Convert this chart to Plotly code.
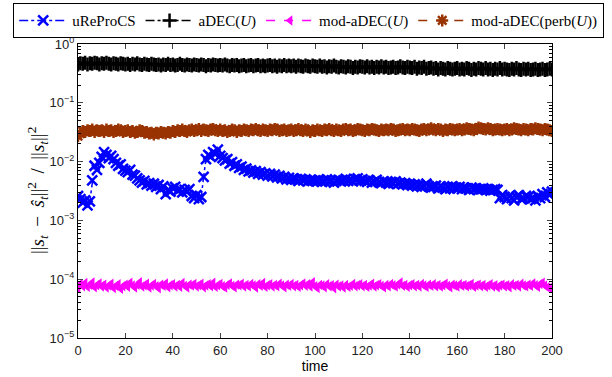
import plotly.graph_objects as go

time = list(range(201))

ureprocs = [
    0.0026, 0.0023, 0.0020, 0.0022, 0.0018, 0.0021, 0.0048, 0.0085, 0.0072, 0.0095,
    0.0120, 0.0145, 0.0130, 0.0115, 0.0125, 0.0110, 0.0095, 0.0085, 0.0090, 0.0075,
    0.0070, 0.0066, 0.0072, 0.0060, 0.0058, 0.0052, 0.0048, 0.0044, 0.0047, 0.0041,
    0.0043, 0.0039, 0.0042, 0.0037, 0.0040, 0.0034, 0.0038, 0.0028, 0.0033, 0.0031,
    0.0035, 0.0037, 0.0032, 0.0034, 0.0030, 0.0033, 0.0031, 0.0034, 0.0026, 0.0024,
    0.0027, 0.0023, 0.0025, 0.0055, 0.0110, 0.0130, 0.0120, 0.0145, 0.0135, 0.0160,
    0.0125, 0.0115, 0.0105, 0.0110, 0.0092, 0.0098, 0.0085, 0.0090, 0.0078, 0.0082,
    0.0072, 0.0076, 0.0068, 0.0071, 0.0065, 0.0069, 0.0062, 0.0066, 0.0060, 0.0063,
    0.0058, 0.0062, 0.0056, 0.0060, 0.0054, 0.0057, 0.0052, 0.0055, 0.0050, 0.0053,
    0.0049, 0.0052, 0.0050, 0.0047, 0.0051, 0.0048, 0.0050, 0.0046, 0.0049, 0.0047,
    0.0048, 0.0046, 0.0049, 0.0045, 0.0047, 0.0050, 0.0046, 0.0048, 0.0044, 0.0047,
    0.0049, 0.0046, 0.0048, 0.0051, 0.0047, 0.0049, 0.0046, 0.0050, 0.0052, 0.0048,
    0.0050, 0.0047, 0.0045, 0.0048, 0.0044, 0.0046, 0.0049, 0.0045, 0.0043, 0.0046,
    0.0044, 0.0042, 0.0045, 0.0043, 0.0046, 0.0042, 0.0044, 0.0041, 0.0043, 0.0040,
    0.0042, 0.0039, 0.0041, 0.0038, 0.0040, 0.0037, 0.0039, 0.0042, 0.0038, 0.0036,
    0.0037, 0.0039, 0.0035, 0.0038, 0.0036, 0.0034, 0.0037, 0.0035, 0.0038, 0.0036,
    0.0035, 0.0037, 0.0034, 0.0036, 0.0035, 0.0033, 0.0036, 0.0034, 0.0035, 0.0033,
    0.0034, 0.0035, 0.0033, 0.0034, 0.0032, 0.0033, 0.0034, 0.0033, 0.0024, 0.0027,
    0.0025, 0.0023, 0.0026, 0.0024, 0.0022, 0.0025, 0.0027, 0.0023, 0.0024, 0.0026,
    0.0025, 0.0023, 0.0024, 0.0022, 0.0026, 0.0024, 0.0028, 0.0025, 0.0030, 0.0027,
    0.0031,
]

adec = [
    0.45, 0.47, 0.46, 0.48, 0.45, 0.47, 0.46, 0.48, 0.47, 0.45,
    0.47, 0.46, 0.48, 0.46, 0.45, 0.47, 0.46, 0.45, 0.47, 0.46,
    0.45, 0.46, 0.44, 0.46, 0.45, 0.47, 0.45, 0.44, 0.46, 0.45,
    0.44, 0.46, 0.45, 0.44, 0.45, 0.43, 0.45, 0.44, 0.46, 0.44,
    0.45, 0.43, 0.44, 0.46, 0.44, 0.43, 0.45, 0.44, 0.43, 0.45,
    0.44, 0.43, 0.45, 0.44, 0.42, 0.44, 0.43, 0.45, 0.44, 0.43,
    0.44, 0.43, 0.45, 0.43, 0.42, 0.44, 0.43, 0.44, 0.42, 0.43,
    0.44, 0.42, 0.43, 0.44, 0.42, 0.43, 0.44, 0.42, 0.43, 0.42,
    0.43, 0.44, 0.42, 0.43, 0.41, 0.43, 0.42, 0.44, 0.42, 0.43,
    0.42, 0.43, 0.41, 0.43, 0.42, 0.41, 0.43, 0.42, 0.41, 0.43,
    0.42, 0.41, 0.43, 0.41, 0.42, 0.40, 0.42, 0.41, 0.43, 0.41,
    0.40, 0.42, 0.41, 0.40, 0.42, 0.41, 0.39, 0.41, 0.40, 0.42,
    0.41, 0.40, 0.42, 0.40, 0.41, 0.39, 0.41, 0.40, 0.42, 0.40,
    0.41, 0.39, 0.40, 0.41, 0.39, 0.40, 0.42, 0.40, 0.39, 0.41,
    0.40, 0.39, 0.41, 0.38, 0.40, 0.39, 0.41, 0.38, 0.39, 0.40,
    0.38, 0.39, 0.37, 0.39, 0.38, 0.37, 0.39, 0.38, 0.37, 0.38,
    0.39, 0.37, 0.38, 0.37, 0.39, 0.38, 0.36, 0.38, 0.37, 0.39,
    0.38, 0.37, 0.39, 0.37, 0.38, 0.36, 0.38, 0.37, 0.39, 0.37,
    0.38, 0.37, 0.36, 0.38, 0.37, 0.39, 0.37, 0.36, 0.38, 0.37,
    0.38, 0.36, 0.37, 0.38, 0.36, 0.37, 0.38, 0.36, 0.37, 0.38,
    0.37,
]

mod_adec = [
    7.0, 8.3, 7.6, 8.6, 7.4, 8.0, 8.8, 7.3, 7.9, 8.5,
    7.5, 8.1, 7.2, 7.8, 8.4, 7.1, 7.7, 8.2, 6.9, 7.6,
    8.1, 7.4, 8.7, 7.8, 7.2, 8.0, 8.9, 7.5, 7.9, 8.4,
    7.2, 7.8, 8.3, 7.6, 7.0, 8.1, 7.7, 8.5, 7.3, 7.9,
    8.2, 7.5, 8.0, 7.4, 8.6, 7.7, 7.2, 8.1, 7.8, 8.3,
    7.5, 7.9, 8.4, 7.3, 7.8, 8.2, 7.6, 8.7, 7.4, 7.9,
    8.3, 7.6, 7.2, 8.0, 8.5, 7.7, 7.3, 8.1, 7.9, 8.4,
    7.5, 8.0, 7.6, 8.3, 7.8, 7.2, 8.2, 7.7, 8.6, 7.4,
    7.9, 8.2, 7.5, 8.0, 7.6, 8.4, 7.8, 7.3, 8.1, 7.7,
    8.3, 7.6, 8.0, 7.4, 7.9, 8.5, 7.7, 8.2, 7.5, 8.9,
    7.6, 7.1, 8.0, 7.8, 7.3, 8.2, 7.6, 7.9, 7.0, 8.1,
    7.5, 7.8, 7.2, 8.0, 7.4, 7.7, 8.3, 7.6, 7.9, 8.2,
    7.6, 8.0, 7.4, 7.8, 8.4, 7.5, 7.9, 8.2, 7.7, 7.3,
    8.0, 7.6, 8.3, 7.9, 7.5, 8.1, 8.8, 7.7, 8.0, 7.4,
    7.9, 8.2, 7.6, 8.0, 7.5, 8.3, 7.8, 7.4, 8.1, 7.7,
    8.2, 7.6, 8.0, 7.5, 7.9, 8.4, 7.7, 7.3, 8.1, 7.8,
    7.5, 8.2, 7.7, 8.0, 7.6, 7.9, 8.3, 7.4, 7.8, 8.1,
    7.6, 8.0, 7.4, 7.8, 8.2, 7.5, 7.9, 7.3, 7.8, 8.1,
    7.6, 7.9, 7.3, 8.2, 7.7, 8.0, 7.5, 8.4, 7.8, 7.6,
    8.1, 7.7, 8.5, 7.9, 7.4, 8.3, 8.7, 7.8, 7.3, 7.1,
    6.8,
]
mod_adec = [v * 1e-5 for v in mod_adec]

mod_adec_perb = [
    27, 30, 33, 32, 34, 33, 35, 32, 34, 33,
    34, 32, 35, 33, 34, 32, 33, 35, 34, 32,
    33, 34, 32, 33, 31, 32, 34, 33, 31, 32,
    30, 31, 29, 31, 30, 32, 31, 30, 32, 31,
    33, 32, 34, 33, 35, 33, 32, 34, 35, 33,
    34, 36, 33, 35, 34, 33, 35, 36, 34, 33,
    35, 33, 34, 32, 33, 35, 34, 32, 34, 33,
    35, 34, 33, 35, 34, 36, 34, 33, 35, 34,
    33, 35, 34, 36, 35, 33, 34, 35, 33, 34,
    35, 33, 34, 36, 34, 33, 35, 34, 32, 34,
    33, 35, 34, 33, 35, 34, 36, 34, 33, 35,
    34, 33, 35, 36, 34, 35, 33, 34, 36, 35,
    34, 33, 35, 34, 36, 35, 34, 33, 35, 34,
    35, 34, 36, 35, 33, 34, 35, 36, 34, 35,
    34, 36, 35, 34, 33, 35, 36, 34, 35, 37,
    35, 34, 36, 35, 33, 35, 34, 36, 35, 34,
    35, 36, 34, 35, 37, 36, 35, 34, 36, 38,
    37, 36, 35, 37, 36, 34, 35, 36, 35, 34,
    35, 36, 34, 35, 37, 36, 35, 34, 36, 35,
    34, 36, 35, 37, 36, 35, 34, 36, 35, 34,
    33,
]
mod_adec_perb = [v * 1e-3 for v in mod_adec_perb]

x_ticks = [0, 20, 40, 60, 80, 100, 120, 140, 160, 180, 200]
y_ticks = [1e-5, 1e-4, 1e-3, 1e-2, 1e-1, 1e0]
y_ticktext = ["10<sup>\u22125</sup>", "10<sup>\u22124</sup>", "10<sup>\u22123</sup>",
              "10<sup>\u22122</sup>", "10<sup>\u22121</sup>", "10<sup>0</sup>"]
y_minor = [k * 10.0 ** e for e in range(-5, 0) for k in range(2, 10)]
y_title = ("||<i>s<sub>t</sub></i>\u2009 \u2212 \u2009<i>\u015d<sub>t</sub></i>||<sup>2</sup>"
           "\u2009 / \u2009||<i>s<sub>t</sub></i>||<sup>2</sup>")

fig = go.Figure()
fig.add_trace(go.Scatter(
    x=time, y=ureprocs, name="uReProCS", mode="lines+markers",
    line=dict(color="#0000FF", width=1.5, dash="dashdot"),
    marker=dict(symbol="x-thin-open", size=10, line=dict(color="#0000FF", width=2.5)),
))
fig.add_trace(go.Scatter(
    x=time, y=adec, name="aDEC(<i>U</i>)", mode="lines+markers",
    line=dict(color="#000000", width=1.5, dash="dashdot"),
    marker=dict(symbol="cross-thin-open", size=10, line=dict(color="#000000", width=2.5)),
))
fig.add_trace(go.Scatter(
    x=time, y=mod_adec, name="mod-aDEC(<i>U</i>)", mode="lines+markers",
    line=dict(color="#FF00FF", width=1.5, dash="dash"),
    marker=dict(symbol="triangle-left", size=9, color="#FF00FF"),
))
fig.add_trace(go.Scatter(
    x=time, y=mod_adec_perb, name="mod-aDEC(perb(<i>U</i>))", mode="lines+markers",
    line=dict(color="#993300", width=1.5, dash="dash"),
    marker=dict(symbol="asterisk-open", size=10, line=dict(color="#993300", width=2.5)),
))

plot_h = 377 - 44 - 39
fig.update_layout(
    width=612, height=377,
    margin=dict(l=78, r=0, t=44, b=39, autoexpand=False),
    paper_bgcolor="white", plot_bgcolor="white",
    showlegend=True,
    legend=dict(
        orientation="h", x=(13 - 78) / 534, y=1 + (44 - 3) / plot_h,
        xanchor="left", yanchor="top",
        bordercolor="black", borderwidth=1.2, bgcolor="white",
        font=dict(family="Liberation Serif", size=15, color="black"),
        itemwidth=48, tracegroupgap=0,
    ),
    xaxis=dict(
        domain=[0, 474 / 534],
        range=[0, 200], tickvals=x_ticks, ticks="inside", ticklen=5,
        showline=True, linecolor="black", linewidth=1.2, mirror="ticks",
        showgrid=False, zeroline=False,
        tickfont=dict(family="Liberation Sans", size=13, color="#222"),
        title=dict(text="time", font=dict(family="Liberation Sans", size=14, color="black"), standoff=2),
    ),
    yaxis=dict(
        type="log", range=[-5, 0], tickvals=y_ticks, ticktext=y_ticktext,
        ticks="inside", ticklen=5,
        minor=dict(tickvals=y_minor, ticks="inside", ticklen=3, tickcolor="black", showgrid=False),
        showline=True, linecolor="black", linewidth=1.2, mirror="ticks",
        showgrid=False, zeroline=False,
        tickfont=dict(family="Liberation Sans", size=13, color="#222"),
    ),
    annotations=[dict(
        text=y_title, xref="paper", yref="paper",
        x=(37 - 78) / 534, y=0.5, xanchor="center", yanchor="middle",
        textangle=-90, showarrow=False,
        font=dict(family="Liberation Serif", size=19, color="black"),
    )],
)

fig.write_html(
    "out.html",
    config={"displayModeBar": False},
    post_script="document.body.style.margin='0';document.body.style.overflow='hidden';",
)
